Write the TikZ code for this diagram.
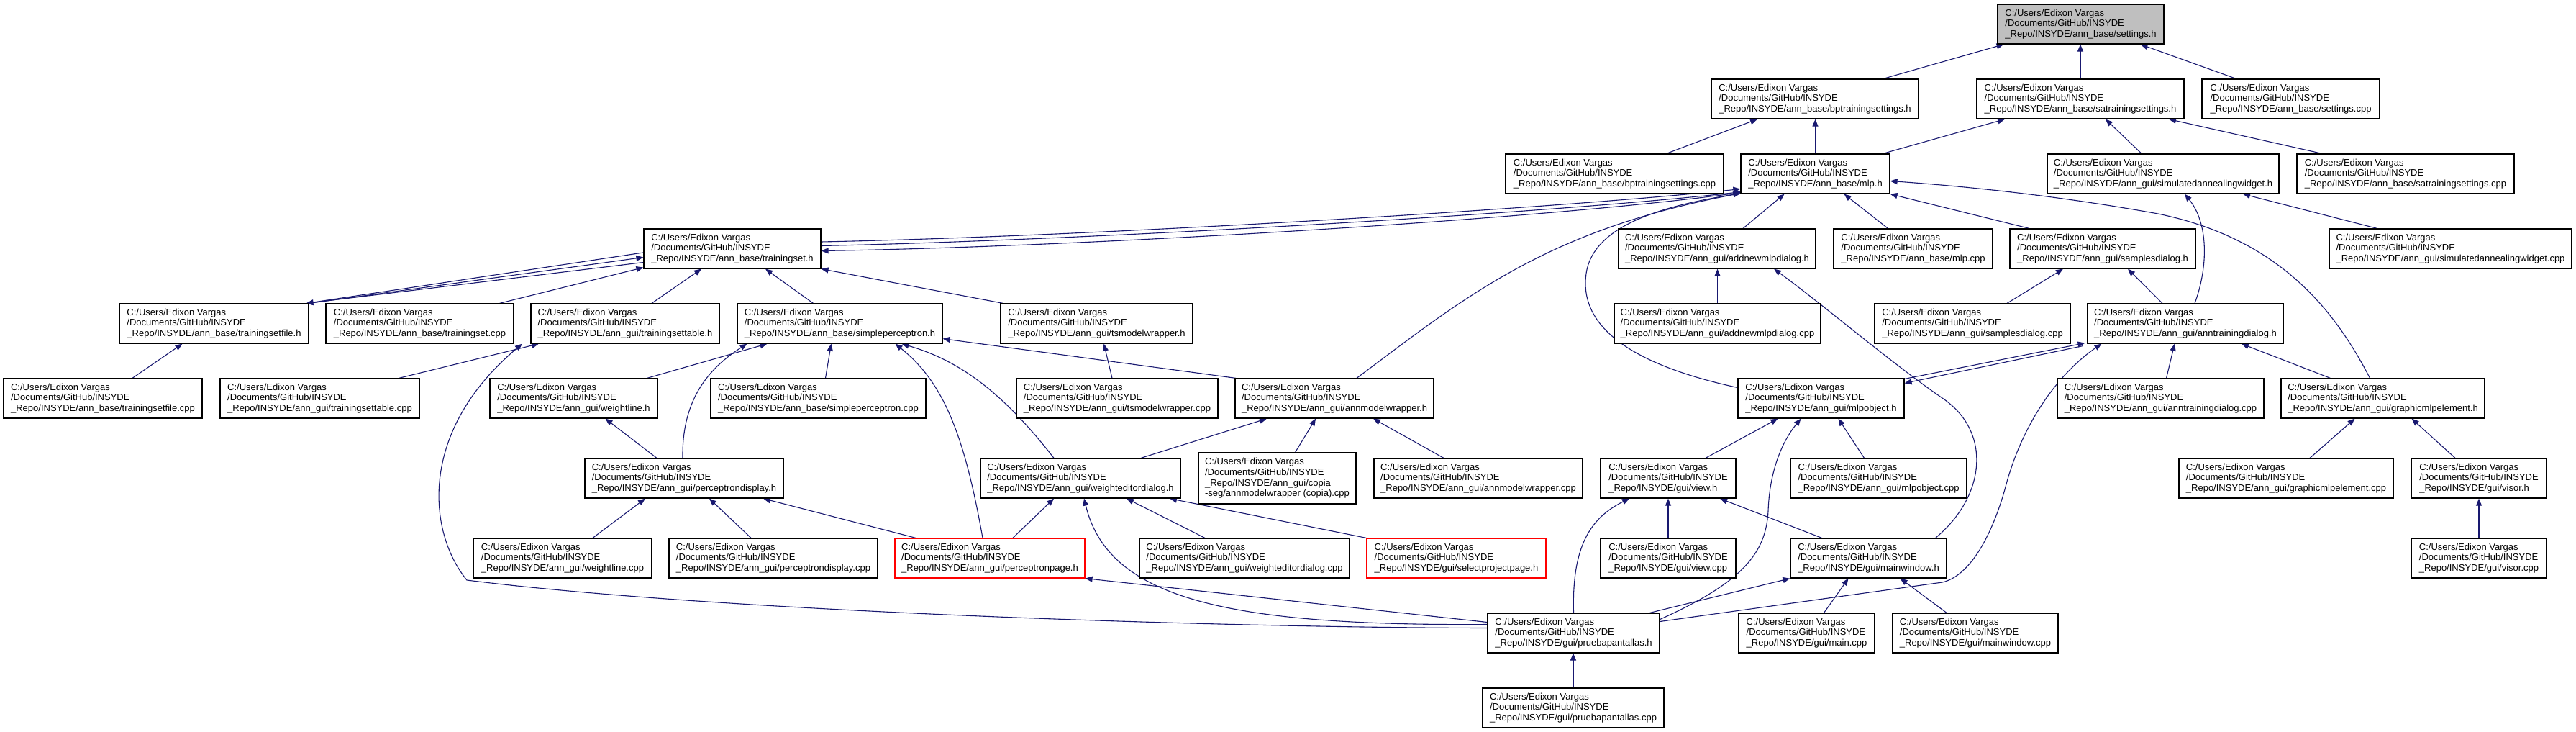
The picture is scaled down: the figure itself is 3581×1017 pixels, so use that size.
\documentclass[tikz,border=0pt]{standalone}
\usepackage{fontspec}
\setmainfont{Liberation Sans}
\usetikzlibrary{arrows.meta}
\definecolor{edgecol}{RGB}{25,25,112}
\definecolor{rootfill}{RGB}{191,191,191}
\pgfdeclarelayer{edgelayer}
\pgfsetlayers{edgelayer,main}
\newcommand\pth[1]{C:/Users/Edixon Vargas\\/Documents/GitHub/INSYDE\\\_Repo/INSYDE/#1}
\begin{document}
\begin{tikzpicture}[x=1pt,y=-1pt,
 box/.style={draw=black,line width=1.2pt,fill=white,align=left,inner xsep=0pt,inner ysep=0pt,minimum height=55pt,font=\fontsize{13}{14.7}\selectfont},
 rootbox/.style={box,fill=rootfill},
 redbox/.style={box,draw=red},
 arr/.style={draw=edgecol,line width=1.1pt,-{Triangle[length=10pt,width=8pt]}}]
\useasboundingbox (0,0) rectangle (3581,1017);
% row 0
\node[rootbox,minimum width=231pt] (settings) at (2892.5,33.5) {\pth{ann\_base/settings.h}};
% row 1
\node[box,minimum width=288pt] (bpset) at (2523,137.5) {\pth{ann\_base/bptrainingsettings.h}};
\node[box,minimum width=288pt] (saset) at (2892,137.5) {\pth{ann\_base/satrainingsettings.h}};
\node[box,minimum width=247pt] (setcpp) at (3184.5,137.5) {\pth{ann\_base/settings.cpp}};
% row 2
\node[box,minimum width=303pt] (bpcpp) at (2244.5,241.5) {\pth{ann\_base/bptrainingsettings.cpp}};
\node[box,minimum width=207pt] (mlph) at (2523.5,241.5) {\pth{ann\_base/mlp.h}};
\node[box,minimum width=322pt] (sawidget) at (3007,241.5) {\pth{ann\_gui/simulatedannealingwidget.h}};
\node[box,minimum width=302pt] (sacpp) at (3344,241.5) {\pth{ann\_base/satrainingsettings.cpp}};
% row 3
\node[box,minimum width=246pt] (tset) at (1018,345.5) {\pth{ann\_base/trainingset.h}};
\node[box,minimum width=274pt] (addnew) at (2387,345.5) {\pth{ann\_gui/addnewmlpdialog.h}};
\node[box,minimum width=221pt] (mlpcpp) at (2659.5,345.5) {\pth{ann\_base/mlp.cpp}};
\node[box,minimum width=258pt] (samples) at (2923,345.5) {\pth{ann\_gui/samplesdialog.h}};
\node[box,minimum width=337pt] (sawcpp) at (3406.5,345.5) {\pth{ann\_gui/simulatedannealingwidget.cpp}};
% row 4
\node[box,minimum width=263pt] (tsfile) at (297.5,449.5) {\pth{ann\_base/trainingsetfile.h}};
\node[box,minimum width=261pt] (tscpp) at (583.5,449.5) {\pth{ann\_base/trainingset.cpp}};
\node[box,minimum width=262pt] (tstable) at (869,449.5) {\pth{ann\_gui/trainingsettable.h}};
\node[box,minimum width=285pt] (simple) at (1167.5,449.5) {\pth{ann\_base/simpleperceptron.h}};
\node[box,minimum width=267pt] (tsmw) at (1524.5,449.5) {\pth{ann\_gui/tsmodelwrapper.h}};
\node[box,minimum width=287pt] (addnewcpp) at (2387.5,449.5) {\pth{ann\_gui/addnewmlpdialog.cpp}};
\node[box,minimum width=272pt] (samplescpp) at (2742,449.5) {\pth{ann\_gui/samplesdialog.cpp}};
\node[box,minimum width=272pt] (anntd) at (3038,449.5) {\pth{ann\_gui/anntrainingdialog.h}};
% row 5
\node[box,minimum width=276pt] (tsfilecpp) at (143,553.5) {\pth{ann\_base/trainingsetfile.cpp}};
\node[box,minimum width=277pt] (tstablecpp) at (444.5,553.5) {\pth{ann\_gui/trainingsettable.cpp}};
\node[box,minimum width=233pt] (wline) at (797.5,553.5) {\pth{ann\_gui/weightline.h}};
\node[box,minimum width=299pt] (simplecpp) at (1137.5,553.5) {\pth{ann\_base/simpleperceptron.cpp}};
\node[box,minimum width=280pt] (tsmwcpp) at (1553,553.5) {\pth{ann\_gui/tsmodelwrapper.cpp}};
\node[box,minimum width=276pt] (annmw) at (1855,553.5) {\pth{ann\_gui/annmodelwrapper.h}};
\node[box,minimum width=231pt] (mlpobj) at (2531.5,553.5) {\pth{ann\_gui/mlpobject.h}};
\node[box,minimum width=287pt] (anntdcpp) at (3003.5,553.5) {\pth{ann\_gui/anntrainingdialog.cpp}};
\node[box,minimum width=283pt] (graphic) at (3312.5,553.5) {\pth{ann\_gui/graphicmlpelement.h}};
% row 6
\node[box,minimum width=276pt] (pdisp) at (951,664.5) {\pth{ann\_gui/perceptrondisplay.h}};
\node[box,minimum width=278pt] (wed) at (1502,664.5) {\pth{ann\_gui/weighteditordialog.h}};
\node[box,minimum width=219pt,minimum height=71pt] (copia) at (1775.5,664.5) {\pth{ann\_gui/copia\\-seg/annmodelwrapper (copia).cpp}};
\node[box,minimum width=290pt] (annmwcpp) at (2055,664.5) {\pth{ann\_gui/annmodelwrapper.cpp}};
\node[box,minimum width=188pt] (view) at (2319,664.5) {\pth{gui/view.h}};
\node[box,minimum width=245pt] (mlpobjcpp) at (2611.5,664.5) {\pth{ann\_gui/mlpobject.cpp}};
\node[box,minimum width=298pt] (graphiccpp) at (3178,664.5) {\pth{ann\_gui/graphicmlpelement.cpp}};
\node[box,minimum width=188pt] (visor) at (3446,664.5) {\pth{gui/visor.h}};
% row 7
\node[box,minimum width=248pt] (wlinecpp) at (782,775.5) {\pth{ann\_gui/weightline.cpp}};
\node[box,minimum width=290pt] (pdispcpp) at (1075,775.5) {\pth{ann\_gui/perceptrondisplay.cpp}};
\node[redbox,minimum width=264pt] (ppage) at (1376,775.5) {\pth{ann\_gui/perceptronpage.h}};
\node[box,minimum width=292pt] (wedcpp) at (1730,775.5) {\pth{ann\_gui/weighteditordialog.cpp}};
\node[redbox,minimum width=249pt] (sproj) at (2024.5,775.5) {\pth{gui/selectprojectpage.h}};
\node[box,minimum width=188pt] (viewcpp) at (2319,775.5) {\pth{gui/view.cpp}};
\node[box,minimum width=217pt] (mainwin) at (2597.5,775.5) {\pth{gui/mainwindow.h}};
\node[box,minimum width=188pt] (visorcpp) at (3446,775.5) {\pth{gui/visor.cpp}};
% row 8
\node[box,minimum width=239pt] (prueba) at (2187.5,879.5) {\pth{gui/pruebapantallas.h}};
\node[box,minimum width=189pt] (maincpp) at (2511.5,879.5) {\pth{gui/main.cpp}};
\node[box,minimum width=230pt] (mainwincpp) at (2746,879.5) {\pth{gui/mainwindow.cpp}};
% row 9
\node[box,minimum width=252pt] (pruebacpp) at (2187,983.5) {\pth{gui/pruebapantallas.cpp}};

\begin{pgfonlayer}{edgelayer}
% settings.h
\draw[arr] ([xshift=95pt]bpset.north) -- ([xshift=-107pt]settings.south);
\draw[arr] (saset.north) -- (saset.north |- settings.south);
\draw[arr] ([xshift=-76pt]setcpp.north) -- ([xshift=83pt]settings.south);
% bptrainingsettings.h
\draw[arr] ([xshift=72pt]bpcpp.north) -- ([xshift=-80pt]bpset.south);
\draw[arr] (mlph.north) -- (mlph.north |- bpset.south);
% satrainingsettings.h
\draw[arr] ([xshift=94pt]mlph.north) -- ([xshift=-105pt]saset.south);
\draw[arr] ([xshift=-30pt]sawidget.north) -- ([xshift=35pt]saset.south);
\draw[arr] ([xshift=-116pt]sacpp.north) -- ([xshift=123pt]saset.south);
% mlp.h <-> trainingset.h bundle
\draw[arr] ([yshift=2pt]mlph.south west) .. controls (2150,305) and (1500,343) .. ([yshift=-3pt]tset.east);
\draw[arr] ([yshift=4pt]tset.east) .. controls (1500,334) and (2150,297) .. ([xshift=1pt,yshift=3pt]mlph.south west);
\draw[arr] ([xshift=3pt,yshift=1pt]tsfile.north east) -- (894,351) -- (1141,336) .. controls (1500,329) and (2150,291) .. ([yshift=7pt]mlph.south west);
% trainingset.h
\draw[arr] (tsfile.north east) -- ([yshift=-12pt]tset.west);
\draw[arr] ([yshift=-19pt]tset.west) -- ([xshift=-4pt]tsfile.north east);
\draw[arr] ([xshift=111pt]tscpp.north) -- ([yshift=2pt]tset.south west);
\draw[arr] ([xshift=37pt]tstable.north) -- ([xshift=-43pt]tset.south);
\draw[arr] ([xshift=-37pt]simple.north) -- ([xshift=46pt]tset.south);
\draw[arr] ([xshift=-130pt]tsmw.north) -- (tset.south east);
% trainingsetfile.h
\draw[arr] ([xshift=41pt]tsfilecpp.north) -- ([xshift=-44pt]tsfile.south);
% trainingsettable.h
\draw[arr] ([xshift=110pt]tstablecpp.north) -- ([xshift=-120pt]tstable.south);
\draw[arr] ([yshift=7pt]prueba.west) .. controls (1700,872) and (1000,850) .. (649,806) .. controls (595,740) and (580,600) .. ([xshift=-143pt]tstable.south);
% simpleperceptron.h
\draw[arr] ([xshift=10pt]simplecpp.north) -- ([xshift=-12pt]simple.south);
\draw[arr] ([xshift=102pt]wline.north) -- ([xshift=-101pt]simple.south);
\draw[arr] ([xshift=-2pt]pdisp.north) .. controls (948,560) and (980,515) .. ([xshift=-129pt]simple.south);
\draw[arr] ([xshift=-10pt]ppage.north) .. controls (1340,600) and (1310,530) .. ([xshift=77pt]simple.south);
\draw[arr] ([xshift=-37pt]wed.north) .. controls (1390,540) and (1330,500) .. ([xshift=86pt]simple.south);
\draw[arr] ([xshift=-137pt]annmw.north) -- ([yshift=7pt]simple.south east);
% tsmodelwrapper.h
\draw[arr] ([xshift=-7pt]tsmwcpp.north) -- ([xshift=10pt]tsmw.south);
% weightline.h
\draw[arr] ([xshift=-38pt]pdisp.north) -- ([xshift=44pt]wline.south);
% perceptrondisplay.h
\draw[arr] ([xshift=42pt]wlinecpp.north) -- ([xshift=-54pt]pdisp.south);
\draw[arr] ([xshift=-31pt]pdispcpp.north) -- ([xshift=35pt]pdisp.south);
\draw[arr] ([xshift=-103pt]ppage.north) -- ([xshift=110pt]pdisp.south);
% weighteditordialog.h
\draw[arr] ([xshift=32pt]ppage.north) -- ([xshift=-37pt]wed.south);
\draw[arr] ([yshift=12pt]prueba.west) .. controls (1700,870) and (1540,830) .. ([xshift=5pt]wed.south);
\draw[arr] ([xshift=-55pt]wedcpp.north) -- ([xshift=64pt]wed.south);
\draw[arr] (sproj.north west) -- ([xshift=124pt]wed.south);
% perceptronpage.h
\draw[arr] ([yshift=15pt]prueba.west) -- (ppage.south east);
% annmodelwrapper.h
\draw[arr] ([xshift=25pt]copia.north) -- ([xshift=-26pt]annmw.south);
\draw[arr] ([xshift=-48pt]annmwcpp.north) -- ([xshift=54pt]annmw.south);
\draw[arr] ([xshift=84pt]wed.north) -- ([xshift=-94pt]annmw.south);
% mlp.h from below
\draw[arr] ([xshift=31pt]annmw.north) .. controls (2040,410) and (2150,320) .. ([yshift=1pt]mlph.south west);
\draw[arr] ([yshift=15pt]mlpobj.west) .. controls (2260,505) and (2195,450) .. (2205,380) .. controls (2215,310) and (2320,285) .. ([yshift=1pt]mlph.south west);
\draw[arr] ([xshift=36pt]addnew.north) -- ([xshift=-43pt]mlph.south);
\draw[arr] ([xshift=-35pt]mlpcpp.north) -- ([xshift=40pt]mlph.south);
\draw[arr] ([xshift=-102pt]samples.north) -- (mlph.south east);
\draw[arr] ([xshift=-18pt]graphic.north) .. controls (3240,420) and (3160,330) .. (3000,297) .. controls (2850,270) and (2720,258) .. ([yshift=-10pt]mlph.east);
% addnewmlpdialog.h
\draw[arr] (addnewcpp.north) -- (addnewcpp.north |- addnew.south);
\draw[arr] ([xshift=-16pt]mainwin.north east) .. controls (2760,690) and (2770,600) .. (2700,553) .. controls (2630,505) and (2530,420) .. ([xshift=79pt]addnew.south);
% anntrainingdialog.h
\draw[arr] ([yshift=16pt]prueba.east) -- (2700,809) .. controls (2740,800) and (2770,740) .. (2787,680) .. controls (2810,590) and (2860,520) .. ([xshift=20pt]anntd.south west);
\draw[arr] ([yshift=-1pt]mlpobj.north east) -- ([xshift=-3pt,yshift=1pt]anntd.south west);
\draw[arr] ([xshift=-6pt,yshift=-3pt]anntd.south west) -- ([yshift=-7pt]mlpobj.north east);
\draw[arr] ([xshift=8pt]anntdcpp.north) -- ([xshift=-15pt]anntd.south);
\draw[arr] ([xshift=-73pt]graphic.north) -- ([xshift=78pt]anntd.south);
% samplesdialog.h
\draw[arr] ([xshift=-32pt]anntd.north) -- ([xshift=35pt]samples.south);
\draw[arr] ([xshift=48pt]samplescpp.north) -- ([xshift=-55pt]samples.south);
% simulatedannealingwidget.h
\draw[arr] ([xshift=13pt]anntd.north) .. controls (3070,370) and (3070,310) .. ([xshift=30pt]sawidget.south);
\draw[arr] ([xshift=-102pt]sawcpp.north) -- ([xshift=111pt]sawidget.south);
% graphicmlpelement.h
\draw[arr] ([xshift=33pt]graphiccpp.north) -- ([xshift=-39pt]graphic.south);
\draw[arr] ([xshift=-33pt]visor.north) -- ([xshift=40pt]graphic.south);
% visor.h
\draw[arr] (visorcpp.north) -- (visor.south);
% mlpobject.h
\draw[arr] ([xshift=52pt]view.north) -- ([xshift=-60pt]mlpobj.south);
\draw[arr] ([yshift=19pt]prueba.east) .. controls (2420,810) and (2455,770) .. (2458,710) .. controls (2460,650) and (2480,610) .. ([xshift=-28pt]mlpobj.south);
\draw[arr] ([xshift=-20pt]mlpobjcpp.north) -- ([xshift=24pt]mlpobj.south);
% view.h
\draw[arr] (prueba.north) .. controls (2185,760) and (2210,720) .. ([xshift=-54pt]view.south);
\draw[arr] (viewcpp.north) -- (view.south);
\draw[arr] ([xshift=-65pt]mainwin.north) -- ([xshift=72pt]view.south);
% mainwindow.h
\draw[arr] ([xshift=106pt]prueba.north) -- (mainwin.south west);
\draw[arr] ([xshift=24pt]maincpp.north) -- ([xshift=-28pt]mainwin.south);
\draw[arr] ([xshift=-40pt]mainwincpp.north) -- ([xshift=44pt]mainwin.south);
% pruebapantallas.h
\draw[arr] (pruebacpp.north) -- (pruebacpp.north |- prueba.south);
\end{pgfonlayer}
\end{tikzpicture}
\end{document}
